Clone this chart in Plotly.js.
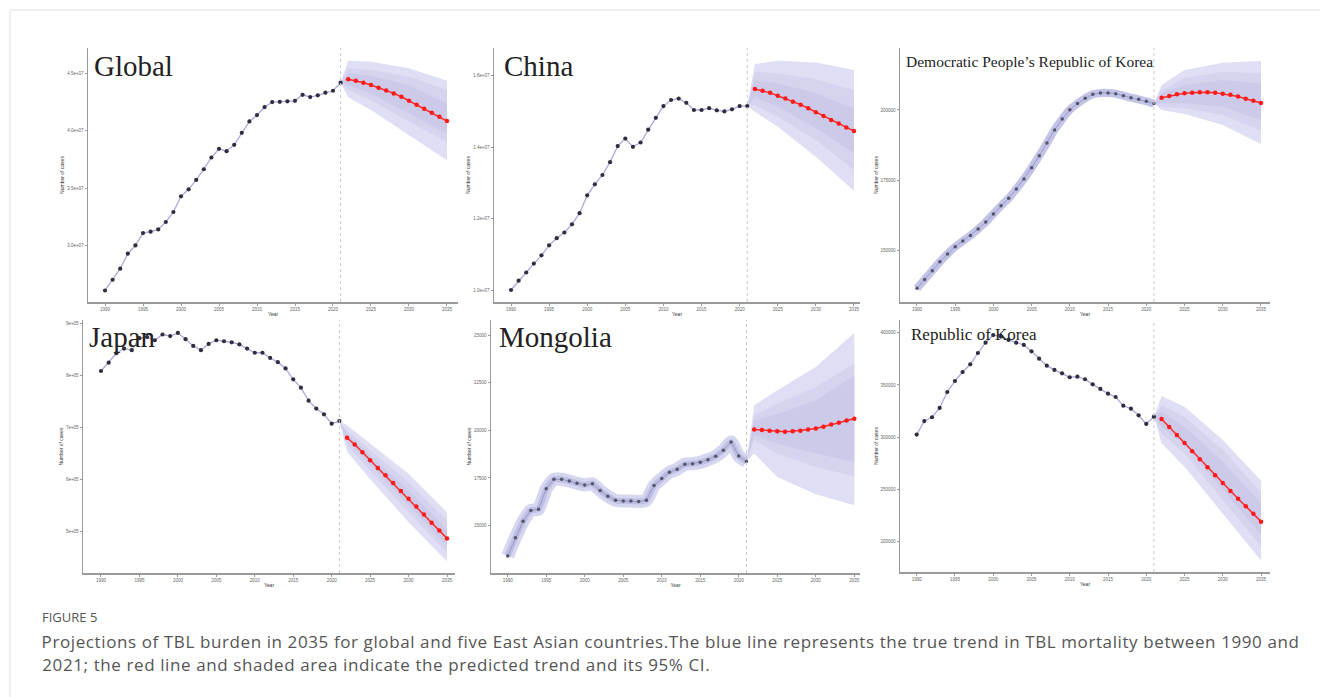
<!DOCTYPE html>
<html>
<head>
<meta charset="utf-8">
<script src="https://cdn.plot.ly/plotly-3.0.1.min.js"></script>
<style>
html,body{margin:0;padding:0;background:#fff;}
#chart{width:1320px;height:697px;}
g.annotation[data-index="7"] text, g.annotation[data-index="8"] text{letter-spacing:0.6px;}
</style>
</head>
<body>
<div id="chart"></div>
<script>
// ---------- DATA ----------
const histYears = [1990,1991,1992,1993,1994,1995,1996,1997,1998,1999,2000,2001,2002,2003,2004,2005,2006,2007,2008,2009,2010,2011,2012,2013,2014,2015,2016,2017,2018,2019,2020,2021];
const projYears = [2022,2023,2024,2025,2026,2027,2028,2029,2030,2031,2032,2033,2034,2035];
const bandYears = [2021,2022,2025,2030,2035];
const xTickVals = [1990,1995,2000,2005,2010,2015,2020,2025,2030,2035];
const xTickText = ['1990','1995','2000','2005','2010','2015','2020','2025','2030','2035'];
const splitYear = 2021;

const panelTitles = ['Global','China','Democratic People\u2019s Republic of Korea','Japan','Mongolia','Republic of Korea'];

// Global
const globalHist = [26.13e6,27.06e6,28.02e6,29.32e6,30.04e6,31.11e6,31.23e6,31.43e6,32.07e6,32.94e6,34.30e6,34.91e6,35.72e6,36.65e6,37.67e6,38.42e6,38.22e6,38.77e6,39.81e6,40.80e6,41.35e6,42.04e6,42.48e6,42.50e6,42.54e6,42.59e6,43.11e6,42.91e6,43.06e6,43.29e6,43.46e6,44.16e6];
const globalProj = [44.45e6,44.33e6,44.16e6,43.96e6,43.72e6,43.49e6,43.23e6,42.94e6,42.59e6,42.24e6,41.90e6,41.55e6,41.20e6,40.83e6];
const globalOuterHi = [44.16e6,46.07e6,45.98e6,45.41e6,44.33e6];
const globalOuterLo = [44.16e6,42.89e6,41.78e6,39.61e6,37.43e6];
const globalMidHi = [44.16e6,45.41e6,45.26e6,44.68e6,43.52e6];
const globalMidLo = [44.16e6,43.52e6,42.65e6,40.77e6,39.03e6];
const globalInHi = [44.16e6,44.97e6,44.74e6,43.96e6,42.36e6];
const globalInLo = [44.16e6,43.96e6,43.23e6,41.49e6,39.76e6];
const globalTickVals = [3.0e7,3.5e7,4.0e7,4.5e7];
const globalTickText = ['3.0e+07','3.5e+07','4.0e+07','4.5e+07'];

// China
const chinaHist = [10.00e6,10.26e6,10.49e6,10.74e6,10.97e6,11.25e6,11.45e6,11.61e6,11.84e6,12.15e6,12.65e6,12.96e6,13.22e6,13.58e6,14.03e6,14.24e6,14.01e6,14.13e6,14.49e6,14.82e6,15.15e6,15.32e6,15.36e6,15.24e6,15.04e6,15.04e6,15.09e6,15.03e6,15.00e6,15.06e6,15.15e6,15.15e6];
const chinaProj = [15.63e6,15.58e6,15.52e6,15.44e6,15.36e6,15.27e6,15.19e6,15.09e6,14.98e6,14.87e6,14.76e6,14.66e6,14.55e6,14.45e6];
const chinaOuterHi = [15.15e6,16.33e6,16.42e6,16.37e6,16.16e6];
const chinaOuterLo = [15.15e6,14.99e6,14.57e6,13.73e6,12.78e6];
const chinaMidHi = [15.15e6,16.11e6,16.07e6,15.90e6,15.60e6];
const chinaMidLo = [15.15e6,15.18e6,14.85e6,14.20e6,13.36e6];
const chinaInHi = [15.15e6,15.88e6,15.79e6,15.51e6,15.09e6];
const chinaInLo = [15.15e6,15.41e6,15.13e6,14.53e6,13.83e6];
const chinaTickVals = [1.0e7,1.2e7,1.4e7,1.6e7];
const chinaTickText = ['1.0e+07','1.2e+07','1.4e+07','1.6e+07'];

// DPRK
const dprkHist = [136300,139500,142600,145800,148600,151200,153200,155200,157500,160000,162900,165800,168500,171800,175400,179400,183700,188200,192900,196800,200100,202300,204200,205600,206100,206100,205800,205100,204400,203800,203100,202300];
const dprkProj = [204400,205000,205600,206000,206200,206300,206300,206200,205800,205400,204800,204000,203300,202500];
const dprkOuterHi = [202300,208900,214300,216900,217500];
const dprkOuterLo = [202300,200000,198600,194600,187900];
const dprkMidHi = [202300,207100,211300,213700,213100];
const dprkMidLo = [202300,201200,200600,198200,192600];
const dprkInHi = [202300,206000,208900,210700,209500];
const dprkInLo = [202300,202400,202400,201200,196400];
const dprkTickVals = [150000,175000,200000];
const dprkTickText = ['150000','175000','200000'];

// Japan
const japanHist = [808000,824000,842000,851000,848000,871000,873000,867000,878000,875000,881000,869000,856000,848000,860000,867000,865000,863000,859000,851000,843000,843000,833000,825000,813000,792000,776000,751000,736000,725000,707000,712000];
const japanProj = [680000,667000,652000,637000,622000,608000,593000,578000,563000,548000,533000,517000,502000,487000];
const japanOuterHi = [712000,704000,669000,611000,537000];
const japanOuterLo = [712000,653000,601000,518000,443000];
const japanMidHi = [712000,694000,656000,595000,521000];
const japanMidLo = [712000,665000,617000,537000,460000];
const japanInHi = [712000,687000,646000,579000,505000];
const japanInLo = [712000,674000,629000,550000,473000];
const japanTickVals = [5e5,6e5,7e5,8e5,9e5];
const japanTickText = ['5e+05','6e+05','7e+05','8e+05','9e+05'];

// Mongolia
const mongoliaHist = [13410,14370,15230,15800,15860,16940,17430,17430,17340,17220,17130,17200,16840,16540,16330,16290,16290,16260,16330,17100,17470,17800,17960,18220,18250,18320,18460,18640,18950,19390,18650,18370];
const mongoliaProj = [20040,20020,19980,19950,19930,19950,19980,20040,20100,20190,20300,20400,20510,20610];
const mongoliaOuterHi = [18370,21310,22100,23320,25100];
const mongoliaOuterLo = [18370,18780,17550,16640,16070];
const mongoliaMidHi = [18370,20790,21400,22270,23500];
const mongoliaMidLo = [18370,19480,18780,18080,17590];
const mongoliaInHi = [18370,20520,20870,21570,22880];
const mongoliaInLo = [18370,19740,19300,18780,18340];
const mongoliaTickVals = [12500,15000,17500,20000,22500,25000];
const mongoliaTickText = ['12500','15000','17500','20000','22500','25000'];

// Republic of Korea
const rokHist = [302500,315500,319100,328000,343300,353800,362400,369800,380600,390500,397800,396300,393100,390500,388300,382200,375200,368500,364400,361200,357400,358000,355500,350600,346200,341700,338500,330200,327300,321000,312700,319700];
const rokProj = [317500,309800,302200,294500,286500,278900,271200,263600,256200,248600,241200,234000,226800,219200];
const rokOuterHi = [319700,339500,329200,297400,258400];
const rokOuterLo = [319700,294200,271800,227200,181900];
const rokMidHi = [319700,330900,319700,287800,246900];
const rokMidLo = [319700,303800,284600,240000,195300];
const rokInHi = [319700,324500,310100,276600,236800];
const rokInLo = [319700,310100,292600,249500,207400];
const rokTickVals = [200000,250000,300000,350000,400000];
const rokTickText = ['200000','250000','300000','350000','400000'];

const captionLabel = 'FIGURE 5';
const captionLine1 = 'Projections of TBL burden in 2035 for global and five East Asian countries.The blue line represents the true trend in TBL mortality between 1990 and';
const captionLine2 = '2021; the red line and shaded area indicate the predicted trend and its 95% CI.';

// ---------- LAYOUT / STYLE ----------
const W = 1320, H = 697;
const captionSpacing = 0.6; // px letter-spacing applied by CSS to the caption lines
const panels = [
  {title:panelTitles[0], hist:globalHist, proj:globalProj, bands:[[globalOuterLo,globalOuterHi],[globalMidLo,globalMidHi],[globalInLo,globalInHi]], tv:globalTickVals, tt:globalTickText,
   px:[88,458], py:[48,302], xr:[1987.76,2036.45], yr:[2.513e7,4.717e7], ribbon:0, tx:92, ty:66, ts:29},
  {title:panelTitles[1], hist:chinaHist, proj:chinaProj, bands:[[chinaOuterLo,chinaOuterHi],[chinaMidLo,chinaMidHi],[chinaInLo,chinaInHi]], tv:chinaTickVals, tt:chinaTickText,
   px:[494,860], py:[48,302], xr:[1987.77,2035.79], yr:[9.664e6,16.776e6], ribbon:0, tx:502, ty:66, ts:29},
  {title:panelTitles[2], hist:dprkHist, proj:dprkProj, bands:[[dprkOuterLo,dprkOuterHi],[dprkMidLo,dprkMidHi],[dprkInLo,dprkInHi]], tv:dprkTickVals, tt:dprkTickText,
   px:[900,1270], py:[48,302], xr:[1987.78,2036.18], yr:[131430,222140], ribbon:1, tx:904, ty:61, ts:15.5},
  {title:panelTitles[3], hist:japanHist, proj:japanProj, bands:[[japanOuterLo,japanOuterHi],[japanMidLo,japanMidHi],[japanInLo,japanInHi]], tv:japanTickVals, tt:japanTickText,
   px:[83,455], py:[320,573], xr:[1987.66,2036.04], yr:[420600,905800], ribbon:0, tx:87, ty:337, ts:29},
  {title:panelTitles[4], hist:mongoliaHist, proj:mongoliaProj, bands:[[mongoliaOuterLo,mongoliaOuterHi],[mongoliaMidLo,mongoliaMidHi],[mongoliaInLo,mongoliaInHi]], tv:mongoliaTickVals, tt:mongoliaTickText,
   px:[491,860], py:[320,573], xr:[1987.83,2035.74], yr:[12515,25787], ribbon:2, tx:497, ty:337, ts:29},
  {title:panelTitles[5], hist:rokHist, proj:rokProj, bands:[[rokOuterLo,rokOuterHi],[rokMidLo,rokMidHi],[rokInLo,rokInHi]], tv:rokTickVals, tt:rokTickText,
   px:[900,1270], py:[320,572], xr:[1987.82,2036.17], yr:[171000,412200], ribbon:0, tx:909, ty:334, ts:17}
];
const bandColors = ['#dedef4','#d4d4ef','#cbcbe9'];

const traces = [];
const layout = {
  width: W, height: H,
  margin: {l:0, r:0, t:0, b:0},
  paper_bgcolor: '#ffffff', plot_bgcolor: 'rgba(0,0,0,0)',
  showlegend: false,
  font: {family: 'Liberation Sans, Arial, sans-serif', color: '#444'},
  shapes: [], annotations: []
};

panels.forEach((p, i) => {
  const n = i + 1;
  const xa = 'x' + (n === 1 ? '' : n), ya = 'y' + (n === 1 ? '' : n);
  const xk = 'xaxis' + (n === 1 ? '' : n), yk = 'yaxis' + (n === 1 ? '' : n);

  // fan bands
  p.bands.forEach((b, j) => {
    traces.push({x: bandYears, y: b[0], xaxis: xa, yaxis: ya, type: 'scatter', mode: 'lines',
      line: {width: 0, color: bandColors[j]}, hoverinfo: 'skip'});
    traces.push({x: bandYears, y: b[1], xaxis: xa, yaxis: ya, type: 'scatter', mode: 'lines',
      line: {width: 0, color: bandColors[j]}, fill: 'tonexty', fillcolor: bandColors[j], hoverinfo: 'skip'});
  });

  // historical ribbon (styling only)
  if (p.ribbon === 1) {
    traces.push({x: histYears, y: p.hist, xaxis: xa, yaxis: ya, type: 'scatter', mode: 'lines',
      line: {width: 8, color: '#c3c3e8', shape: 'spline', smoothing: 0.6}, hoverinfo: 'skip'});
  } else if (p.ribbon === 2) {
    traces.push({x: histYears, y: p.hist, xaxis: xa, yaxis: ya, type: 'scatter', mode: 'lines',
      line: {width: 13, color: '#d6d6f1', shape: 'spline', smoothing: 0.5}, hoverinfo: 'skip'});
    traces.push({x: histYears, y: p.hist, xaxis: xa, yaxis: ya, type: 'scatter', mode: 'lines',
      line: {width: 6, color: '#bfbfe3', shape: 'spline', smoothing: 0.5}, hoverinfo: 'skip'});
  }

  // historical line + points
  traces.push({x: histYears, y: p.hist, xaxis: xa, yaxis: ya, type: 'scatter', mode: 'lines+markers',
    line: {width: p.ribbon ? 0.8 : 1.3, color: p.ribbon ? '#8f8fc0' : '#a9a9df'},
    marker: {size: p.ribbon ? 3.5 : 4.2, color: p.ribbon ? '#55556a' : '#2e2e3e'}});

  // projection line + points
  traces.push({x: projYears, y: p.proj, xaxis: xa, yaxis: ya, type: 'scatter', mode: 'lines+markers',
    line: {width: 1.5, color: '#ff2a2a'}, marker: {size: 4.5, color: '#ff1a1a'}});

  layout[xk] = {
    domain: [p.px[0] / W, p.px[1] / W], range: p.xr, anchor: ya,
    tickmode: 'array', tickvals: xTickVals, ticktext: xTickText,
    tickfont: {size: 4.5, color: '#666'}, ticks: 'outside', ticklen: 2, tickcolor: '#999',
    showline: true, linecolor: '#9a9a9a', linewidth: 1.5, showgrid: false, zeroline: false,
    title: {text: 'Year', font: {size: 5, color: '#333'}, standoff: 1}
  };
  layout[yk] = {
    domain: [1 - p.py[1] / H, 1 - p.py[0] / H], range: p.yr, anchor: xa,
    tickmode: 'array', tickvals: p.tv, ticktext: p.tt,
    tickfont: {size: 4.5, color: '#666'}, ticks: 'outside', ticklen: 2, tickcolor: '#999',
    showline: true, linecolor: '#9a9a9a', linewidth: 1.5, showgrid: false, zeroline: false,
    title: {text: 'Number of cases', font: {size: 5, color: '#333'}, standoff: 2}
  };

  // dashed vertical line at the split year
  layout.shapes.push({type: 'line', xref: xa, yref: ya + ' domain', x0: splitYear, x1: splitYear, y0: 0, y1: 1,
    line: {color: '#c8c8c8', width: 1, dash: 'dot'}});

  // panel title
  layout.annotations.push({xref: 'paper', yref: 'paper', x: p.tx / W, y: 1 - p.ty / H,
    xanchor: 'left', yanchor: 'middle', showarrow: false, text: p.title,
    font: {family: 'Liberation Serif, Times New Roman, serif', size: p.ts, color: '#222'}});
});

// figure frame lines
layout.shapes.push({type: 'line', xref: 'paper', yref: 'paper', x0: 10 / W, x1: 1, y0: 1 - 10 / H, y1: 1 - 10 / H,
  line: {color: '#e0e0e0', width: 1}});
layout.shapes.push({type: 'line', xref: 'paper', yref: 'paper', x0: 10 / W, x1: 10 / W, y0: 0, y1: 1 - 10 / H,
  line: {color: '#e0e0e0', width: 1}});

// caption (x shifted so the CSS letter-spacing, which grows around the centre, keeps the left edge at 40px)
layout.annotations.push({xref: 'paper', yref: 'paper', x: 40 / W, y: 1 - 617 / H, xanchor: 'left', yanchor: 'middle',
  showarrow: false, text: captionLabel, font: {family: 'Open Sans, sans-serif', size: 13, color: '#555'}});
layout.annotations.push({xref: 'paper', yref: 'paper', x: (40 + captionSpacing * captionLine1.length / 2) / W, y: 1 - 641 / H, xanchor: 'left', yanchor: 'middle',
  showarrow: false, text: captionLine1, font: {family: 'Open Sans, sans-serif', size: 17, color: '#555'}});
layout.annotations.push({xref: 'paper', yref: 'paper', x: (40 + captionSpacing * captionLine2.length / 2) / W, y: 1 - 664 / H, xanchor: 'left', yanchor: 'middle',
  showarrow: false, text: captionLine2, font: {family: 'Open Sans, sans-serif', size: 17, color: '#555'}});

Plotly.newPlot('chart', traces, layout, {staticPlot: true, displayModeBar: false});
</script>
</body>
</html>
